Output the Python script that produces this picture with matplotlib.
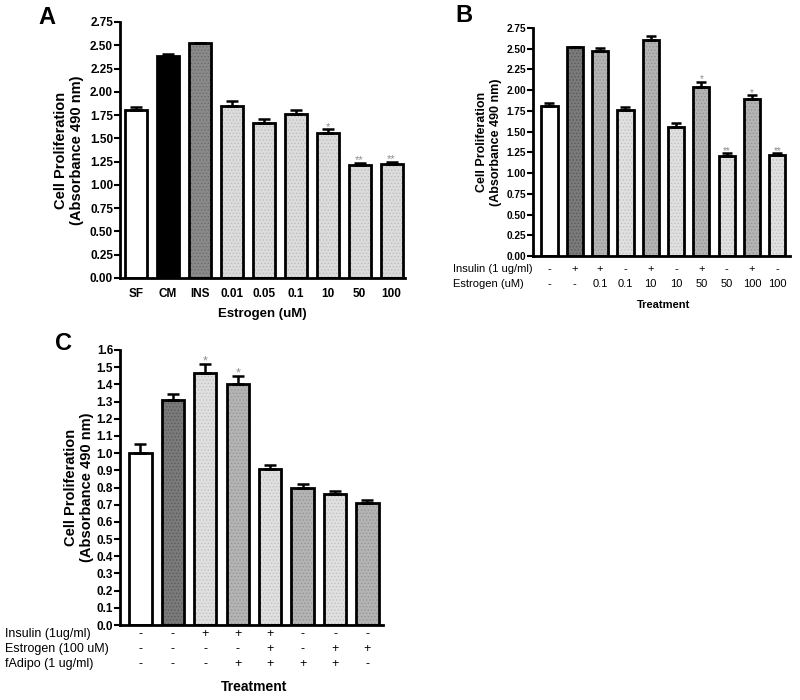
import matplotlib
matplotlib.use("Agg")
import matplotlib.pyplot as plt
import matplotlib.transforms as mtrans
import numpy as np

plt.rcParams['font.family'] = ['Liberation Sans', 'DejaVu Sans']
plt.rcParams['hatch.linewidth'] = 0.6

# ---------------- data ----------------
# Panel A
a_labels = ["SF", "CM", "INS", "0.01", "0.05", "0.1", "10", "50", "100"]
a_values = [1.81, 2.39, 2.52, 1.85, 1.67, 1.76, 1.56, 1.21, 1.22]
a_errors = [0.03, 0.02, 0.005, 0.05, 0.04, 0.04, 0.04, 0.03, 0.03]
a_stars = ["", "", "", "", "", "", "*", "**", "**"]
a_colors = ["#ffffff", "#000000", "#8a8a8a", "#dcdcdc", "#dcdcdc", "#dcdcdc", "#dcdcdc", "#dcdcdc", "#dcdcdc"]
a_yticks = [0.00, 0.25, 0.50, 0.75, 1.00, 1.25, 1.50, 1.75, 2.00, 2.25, 2.50, 2.75]

# Panel B
b_insulin = ["-", "+", "+", "-", "+", "-", "+", "-", "+", "-"]
b_estrogen = ["-", "-", "0.1", "0.1", "10", "10", "50", "50", "100", "100"]
b_values = [1.81, 2.52, 2.47, 1.76, 2.61, 1.56, 2.04, 1.21, 1.89, 1.22]
b_errors = [0.03, 0.005, 0.04, 0.04, 0.04, 0.04, 0.06, 0.03, 0.05, 0.02]
b_stars = ["", "", "", "", "", "", "*", "**", "*", "**"]
b_colors = ["#ffffff", "#7a7a7a", "#b4b4b4", "#e0e0e0", "#b4b4b4", "#e0e0e0",
            "#b4b4b4", "#e0e0e0", "#b4b4b4", "#e0e0e0"]
b_yticks = [0.00, 0.25, 0.50, 0.75, 1.00, 1.25, 1.50, 1.75, 2.00, 2.25, 2.50, 2.75]

# Panel C
c_insulin = ["-", "-", "+", "+", "+", "-", "-", "-"]
c_estrogen = ["-", "-", "-", "-", "+", "-", "+", "+"]
c_fadipo = ["-", "-", "-", "+", "+", "+", "+", "-"]
c_values = [1.00, 1.31, 1.465, 1.405, 0.91, 0.80, 0.76, 0.71]
c_errors = [0.055, 0.035, 0.055, 0.045, 0.02, 0.02, 0.02, 0.02]
c_stars = ["", "", "*", "*", "", "", "", ""]
c_colors = ["#ffffff", "#7a7a7a", "#e0e0e0", "#b4b4b4", "#e0e0e0", "#b4b4b4", "#e0e0e0", "#b4b4b4"]
c_yticks = [0.0, 0.1, 0.2, 0.3, 0.4, 0.5, 0.6, 0.7, 0.8, 0.9, 1.0, 1.1, 1.2, 1.3, 1.4, 1.5, 1.6]

W, H = 800, 700
fig = plt.figure(figsize=(8, 7), dpi=100)


def px_axes(x0, y0, x1, y1):
    return fig.add_axes([x0 / W, 1 - y1 / H, (x1 - x0) / W, (y1 - y0) / H])


def style_axes(ax, yticks, fmt, tsize):
    for s in ["top", "right"]:
        ax.spines[s].set_visible(False)
    for s in ["left", "bottom"]:
        ax.spines[s].set_linewidth(2)
    ax.set_yticks(yticks)
    ax.set_yticklabels([fmt.format(v) for v in yticks], fontsize=tsize, fontweight='bold')
    ax.tick_params(axis='y', length=4, width=1.5, pad=1)
    ax.tick_params(axis='x', length=0)


def hatch_color(c):
    rgb = np.array(matplotlib.colors.to_rgb(c))
    return tuple(np.clip(rgb - 0.12, 0, 1))


def draw_bars(ax, values, errors, colors, stars, width, star_size, star_off, capsize):
    x = np.arange(len(values))
    for xi, v, c in zip(x, values, colors):
        if c not in ("#ffffff", "#000000"):
            ax.bar(xi, v, width=width, color=c, edgecolor=hatch_color(c), hatch='.....',
                   linewidth=0, zorder=2)
        else:
            ax.bar(xi, v, width=width, color=c, linewidth=0, zorder=2)
    ax.bar(x, values, width=width, fill=False, edgecolor='black', linewidth=2, zorder=2.5)
    ax.errorbar(x, values, yerr=[np.zeros(len(errors)), errors], fmt='none',
                ecolor='black', elinewidth=1.8, capsize=capsize, capthick=1.8, zorder=3)
    for xi, v, e, s in zip(x, values, errors, stars):
        if s:
            ax.text(xi, v + e + star_off, s, ha='center', va='bottom', fontsize=star_size,
                    color='#8c8c8c')
    return x


# ---------------- Panel A ----------------
axA = px_axes(120, 22, 405, 278)
xa = draw_bars(axA, a_values, a_errors, a_colors, a_stars, 0.69, 8, -0.03, 4.5)
axA.set_xlim(-0.5, 8.42)
axA.set_ylim(0, 2.75)
style_axes(axA, a_yticks, "{:.2f}", 8.5)
axA.set_xticks(xa)
axA.set_xticklabels(a_labels, fontsize=8.5, fontweight='bold')
axA.tick_params(axis='x', pad=7)
axA.set_xlabel("Estrogen (uM)", fontsize=9.5, fontweight='bold', labelpad=6)
axA.set_ylabel("Cell Proliferation\n(Absorbance 490 nm)", fontsize=10.5, fontweight='bold', labelpad=4)
fig.text(38 / W, 1 - 18 / H, "A", fontsize=17, fontweight='bold', va='center')

# ---------------- Panel B ----------------
axB = px_axes(533, 28, 790, 256)
xb = draw_bars(axB, b_values, b_errors, b_colors, b_stars, 0.64, 7, -0.03, 3.5)
axB.set_xlim(-0.65, 9.5)
axB.set_ylim(0, 2.75)
style_axes(axB, b_yticks, "{:.2f}", 7.2)
axB.set_xticks([])
axB.set_ylabel("Cell Proliferation\n(Absorbance 490 nm)", fontsize=9, fontweight='bold', labelpad=3)
trB = mtrans.blended_transform_factory(axB.transData, fig.transFigure)
for xi, s in zip(xb, b_insulin):
    axB.text(xi, 1 - 269 / H, s, transform=trB, ha='center', va='center', fontsize=8)
for xi, s in zip(xb, b_estrogen):
    axB.text(xi, 1 - 284 / H, s, transform=trB, ha='center', va='center', fontsize=8)
fig.text(453 / W, 1 - 269 / H, "Insulin (1 ug/ml)", fontsize=8, va='center')
fig.text(453 / W, 1 - 284 / H, "Estrogen (uM)", fontsize=8, va='center')
axB.text(4.5, 1 - 305 / H, "Treatment", transform=trB, ha='center', va='center',
         fontsize=8, fontweight='bold')
fig.text(455 / W, 1 - 15 / H, "B", fontsize=17, fontweight='bold', va='center')

# ---------------- Panel C ----------------
axC = px_axes(120, 350, 383, 625)
xc = draw_bars(axC, c_values, c_errors, c_colors, c_stars, 0.69, 9, -0.02, 4.5)
axC.set_xlim(-0.63, 7.48)
axC.set_ylim(0, 1.6)
style_axes(axC, c_yticks, "{:.1f}", 8.5)
axC.set_xticks([])
axC.set_ylabel("Cell Proliferation\n(Absorbance 490 nm)", fontsize=10.5, fontweight='bold', labelpad=2)
trC = mtrans.blended_transform_factory(axC.transData, fig.transFigure)
rowsC = [("Insulin (1ug/ml)", c_insulin, 634), ("Estrogen (100 uM)", c_estrogen, 649),
         ("fAdipo (1 ug/ml)", c_fadipo, 664)]
for name, vals, ypx in rowsC:
    fig.text(5 / W, 1 - ypx / H, name, fontsize=9, va='center')
    for xi, s in zip(xc, vals):
        axC.text(xi, 1 - ypx / H, s, transform=trC, ha='center', va='center', fontsize=9)
axC.text(3.5, 1 - 687 / H, "Treatment", transform=trC, ha='center', va='center',
         fontsize=10, fontweight='bold')
fig.text(55 / W, 1 - 343 / H, "C", fontsize=17, fontweight='bold', va='center')

fig.savefig("out.png", dpi=100)
